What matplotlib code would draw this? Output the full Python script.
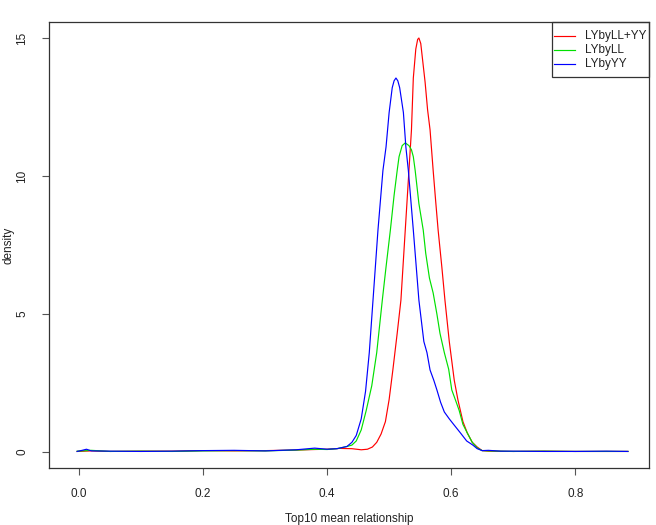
import matplotlib
matplotlib.use("Agg")
import matplotlib.pyplot as plt
from matplotlib.patches import Rectangle
from matplotlib.lines import Line2D

# ---- data (density curves) ----
series_names = ["LYbyLL+YY", "LYbyLL", "LYbyYY"]
series_colors = ["#ff0000", "#00e000", "#0000ff"]

red_x = [-0.003, 0.02, 0.05, 0.10, 0.15, 0.20, 0.25, 0.30, 0.35, 0.38, 0.40, 0.42, 0.44, 0.455,
         0.465, 0.473, 0.480, 0.487, 0.494, 0.500, 0.506, 0.513, 0.519, 0.526, 0.533, 0.536,
         0.539, 0.543, 0.546, 0.548, 0.551, 0.554, 0.558, 0.562, 0.566, 0.571, 0.575, 0.579,
         0.585, 0.590, 0.597, 0.605, 0.611, 0.619, 0.626, 0.634, 0.642, 0.650, 0.660, 0.70,
         0.75, 0.80, 0.85, 0.885]
red_y = [0.02, 0.04, 0.02, 0.03, 0.03, 0.05, 0.04, 0.05, 0.07, 0.09, 0.10, 0.13, 0.12, 0.08,
         0.10, 0.18, 0.35, 0.65, 1.10, 1.90, 2.97, 4.30, 5.50, 8.04, 10.58, 11.67,
         13.55, 14.60, 14.95, 15.00, 14.80, 14.20, 13.40, 12.40, 11.67, 10.20, 9.10, 8.04,
         6.70, 5.50, 4.00, 2.60, 1.88, 1.10, 0.69, 0.35, 0.18, 0.05, 0.03, 0.02,
         0.03, 0.02, 0.02, 0.02]

green_x = [-0.003, 0.02, 0.05, 0.10, 0.15, 0.20, 0.25, 0.30, 0.35, 0.38, 0.40, 0.416, 0.432,
           0.440, 0.447, 0.455, 0.463, 0.472, 0.480, 0.489, 0.495, 0.502, 0.508, 0.513, 0.516,
           0.521, 0.526, 0.532, 0.536, 0.539, 0.542, 0.548, 0.555, 0.559, 0.565, 0.571, 0.577,
           0.582, 0.589, 0.596, 0.601, 0.607, 0.613, 0.619, 0.626, 0.634, 0.642, 0.650, 0.660,
           0.70, 0.75, 0.80, 0.85, 0.885]
green_y = [0.03, 0.06, 0.02, 0.03, 0.02, 0.04, 0.05, 0.04, 0.07, 0.10, 0.09, 0.12, 0.20,
           0.25, 0.40, 0.80, 1.50, 2.40, 3.60, 5.50, 6.70, 8.04, 9.30, 10.20, 10.70,
           11.10, 11.20, 11.10, 10.95, 10.70, 10.20, 9.00, 8.04, 7.20, 6.30, 5.76, 5.00,
           4.30, 3.60, 3.00, 2.25, 1.88, 1.50, 1.00, 0.69, 0.35, 0.15, 0.05, 0.04,
           0.02, 0.03, 0.02, 0.02, 0.02]

blue_x = [-0.003, 0.005, 0.012, 0.02, 0.05, 0.10, 0.15, 0.20, 0.25, 0.30, 0.35, 0.38, 0.40,
          0.416, 0.432, 0.440, 0.447, 0.455, 0.462, 0.468, 0.474, 0.482, 0.490, 0.495, 0.500,
          0.505, 0.508, 0.511, 0.514, 0.517, 0.523, 0.527, 0.531, 0.539, 0.548, 0.556, 0.561,
          0.566, 0.572, 0.577, 0.583, 0.589, 0.597, 0.604, 0.615, 0.625, 0.635, 0.642, 0.650,
          0.660, 0.680, 0.70, 0.75, 0.80, 0.85, 0.885]
blue_y = [0.02, 0.06, 0.10, 0.04, 0.03, 0.02, 0.03, 0.05, 0.06, 0.04, 0.08, 0.14, 0.10,
          0.12, 0.20, 0.35, 0.60, 1.20, 2.20, 3.60, 5.50, 8.04, 10.20, 11.05, 12.30,
          13.20, 13.45, 13.55, 13.45, 13.20, 12.30, 11.05, 10.20, 8.04, 5.50, 4.00, 3.60,
          2.97, 2.60, 2.25, 1.80, 1.45, 1.20, 1.00, 0.69, 0.40, 0.25, 0.12, 0.05,
          0.06, 0.03, 0.03, 0.02, 0.02, 0.03, 0.02]

x_ticks = [0.0, 0.2, 0.4, 0.6, 0.8]
x_tick_labels = ["0.0", "0.2", "0.4", "0.6", "0.8"]
y_ticks = [0, 5, 10, 15]
y_tick_labels = ["0", "5", "10", "15"]
x_label = "Top10 mean relationship"
y_label = "density"

# ---- figure ----
W, H = 656, 525
fig = plt.figure(figsize=(W / 100, H / 100), dpi=100)
plt.rcParams["font.family"] = ["Liberation Sans", "DejaVu Sans"]

ax = fig.add_axes([49 / W, (H - 468) / H, 600 / W, 446 / H])

for xs, ys, c, n in zip([red_x, green_x, blue_x], [red_y, green_y, blue_y],
                        series_colors, series_names):
    ax.plot(xs, ys, color=c, lw=0.85, label=n)

ax.set_xlim(-0.0484, 0.919)
ax.set_ylim(-0.58, 15.58)

ax.set_xticks(x_ticks)
ax.set_xticklabels(x_tick_labels)
ax.set_yticks(y_ticks)
ax.set_yticklabels(y_tick_labels, rotation=90, va="center")
ax.tick_params(axis="both", direction="out", length=5, width=0.8, color="#555555",
               labelsize=8.5, labelcolor="#222222")
ax.tick_params(axis="x", pad=9.5)
ax.tick_params(axis="y", pad=10)

for s in ax.spines.values():
    s.set_color("#333333")
    s.set_linewidth(0.9)

ax.set_xlabel(x_label, fontsize=8.5, color="#222222", labelpad=9)
ax.set_ylabel(y_label, fontsize=8.5, color="#222222", labelpad=1)

# ---- legend drawn in figure pixel coordinates (R style box) ----
def fx(px):
    return px / W

def fy(py):
    return (H - py) / H

fig.patches.append(Rectangle((fx(552), fy(77)), fx(649) - fx(552), fy(22) - fy(77),
                             transform=fig.transFigure, fill=False,
                             edgecolor="#333333", linewidth=0.9, zorder=5))
row_y = [35.5, 50, 64]
for c, n, ry in zip(series_colors, series_names, row_y):
    fig.lines.append(Line2D([fx(554), fx(575)], [fy(ry), fy(ry)], transform=fig.transFigure,
                            color=c, lw=0.85))
    fig.text(fx(585), fy(ry), n, fontsize=8.5, color="#222222", va="center", ha="left")

fig.savefig("out.png", dpi=100)
